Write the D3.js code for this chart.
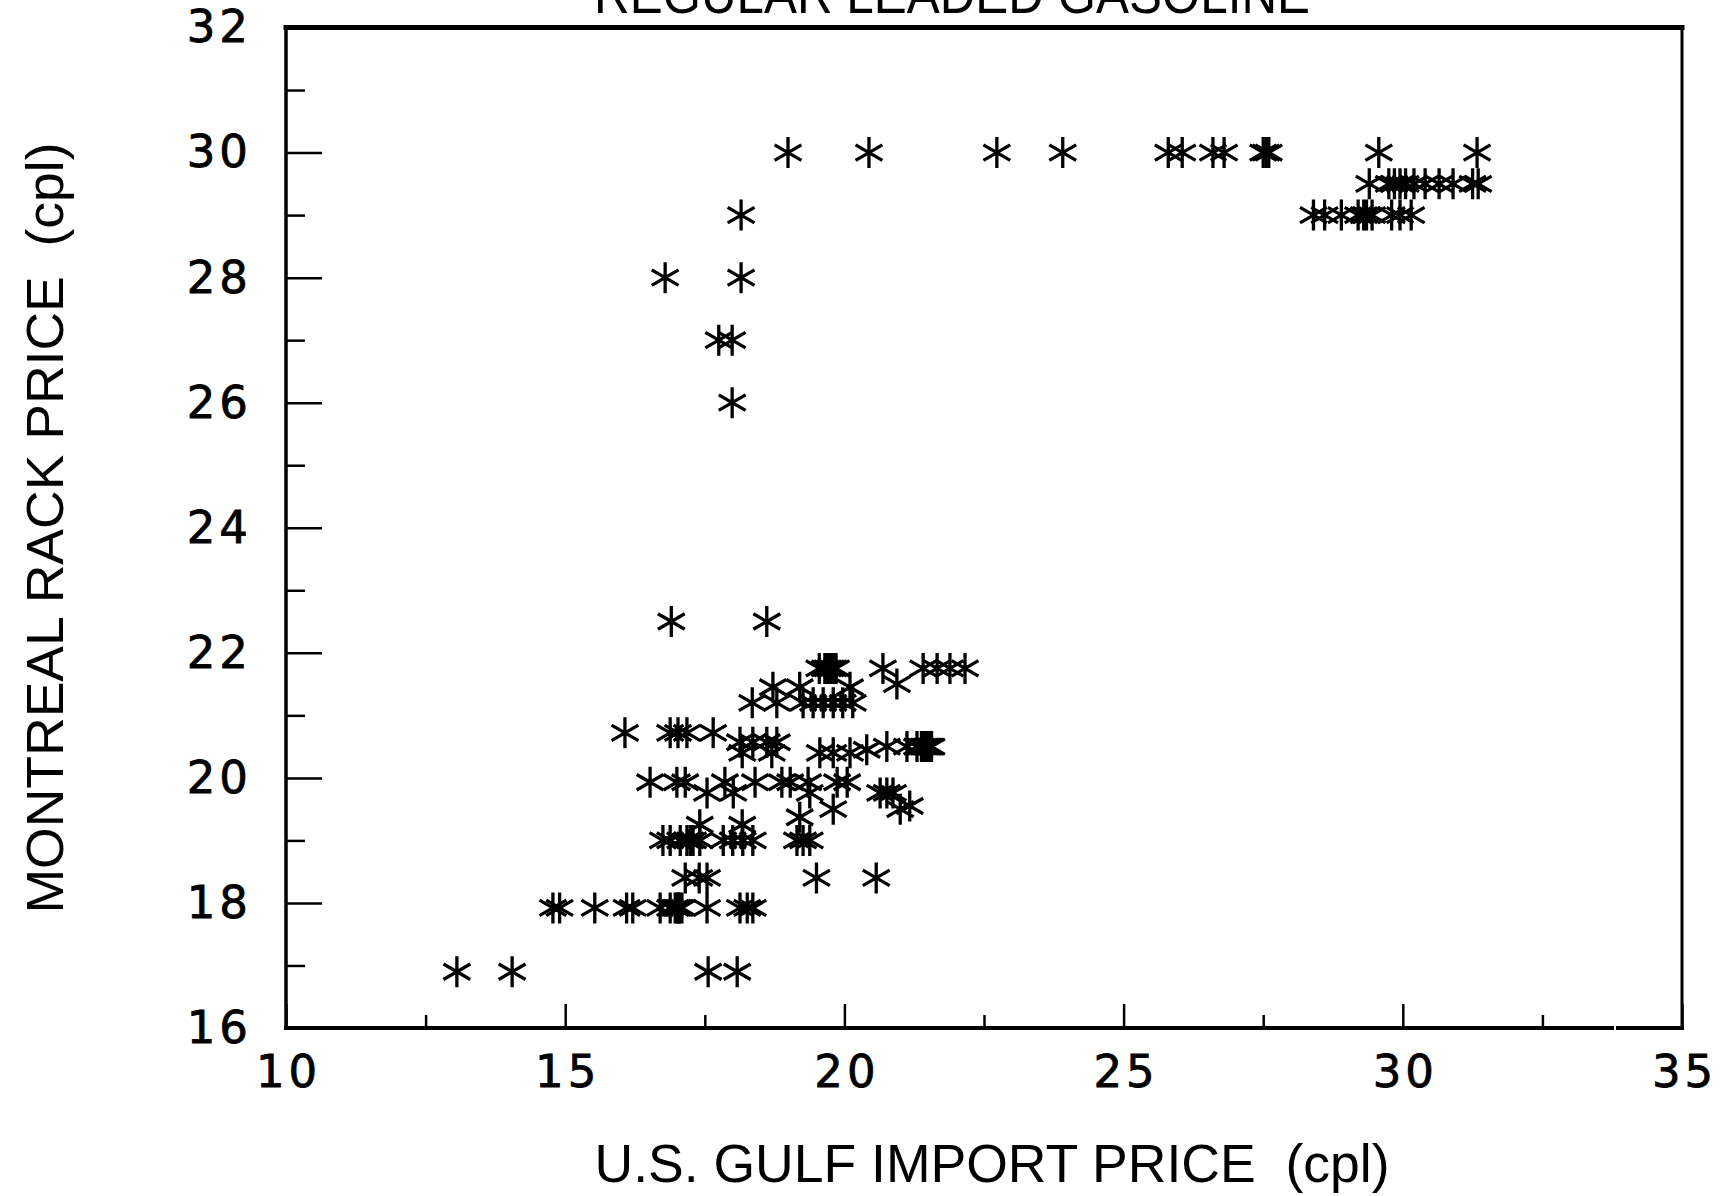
<!DOCTYPE html>
<html>
<head>
<meta charset="utf-8">
<script src="https://cdn.jsdelivr.net/npm/d3@7"></script>
<style>
  body { margin: 0; background: #fff; }
  svg { display: block; }
</style>
</head>
<body>
<svg id="chart" width="1726" height="1196"></svg>
<script>
// Montreal rack price vs U.S. Gulf import price, regular leaded gasoline (cpl)
const gulfPrice = [
  // 30 cpl
  18.99, 20.44, 22.73, 23.91, 25.8, 26.05, 26.6, 26.8, 27.5, 27.55, 27.6, 29.57, 31.33,
  // 29.5
  29.4, 29.75, 29.85, 29.95, 30.05, 30.2, 30.4, 30.65, 30.9, 31.25, 31.35,
  // 29
  28.4, 28.6, 28.9, 29.2, 29.3, 29.35, 29.45, 29.8, 29.95, 30.15, 18.15,
  // 28, 27, 26
  16.79, 18.15, 17.75, 17.99, 17.99,
  // 22.5
  16.9, 18.61,
  // 21.75
  19.55, 19.65, 19.7, 19.75, 19.8, 19.85, 20.69, 21.41, 21.66, 21.89, 22.16,
  // 21.45
  18.72, 19.2, 20.1, 20.94,
  // 21.2
  18.35, 18.79, 19.26, 19.44, 19.62, 19.8, 19.97, 20.15,
  // 20.72
  16.07, 16.88, 17.02, 17.18, 17.65,
  // 20.57
  18.13, 18.36, 18.61, 18.79,
  // 20.4
  18.17, 18.7, 19.56, 19.8, 20.1, 20.4,
  // 20.5
  20.76, 21.12, 21.3, 21.38, 21.42, 21.45, 21.48, 21.5, 21.53, 21.56,
  // 19.93
  16.52, 17.0, 17.15, 17.86, 18.4, 18.88, 19.03, 19.35, 19.87, 20.05,
  // 19.76
  17.54, 18.01, 19.38, 20.64, 20.76, 20.87,
  // 19.5, 19.37, 19.25
  19.8, 21.0, 21.17, 19.2, 17.41, 18.17,
  // 19
  16.75, 16.88, 17.06, 17.18, 17.24, 17.29, 17.41, 17.83, 18.0, 18.18, 18.36, 19.15, 19.26, 19.38,
  // 18.4
  17.15, 17.4, 17.54, 19.5, 20.57,
  // 17.9
  14.78, 14.9, 15.53, 16.1, 16.21, 16.7, 16.88, 16.97, 17.0, 17.03, 17.05, 17.09, 17.54, 18.13, 18.26, 18.36,
  // 16.9
  13.06, 14.05, 17.56, 18.08
];

const rackPrice = [
  30, 30, 30, 30, 30, 30, 30, 30, 30, 30, 30, 30, 30,
  29.5, 29.5, 29.5, 29.5, 29.5, 29.5, 29.5, 29.5, 29.5, 29.5, 29.5,
  29, 29, 29, 29, 29, 29, 29, 29, 29, 29, 29,
  28, 28, 27, 27, 26,
  22.5, 22.5,
  21.75, 21.75, 21.75, 21.75, 21.75, 21.75, 21.75, 21.75, 21.75, 21.75, 21.75,
  21.45, 21.45, 21.45, 21.5,
  21.2, 21.2, 21.2, 21.2, 21.2, 21.2, 21.2, 21.2,
  20.72, 20.72, 20.72, 20.72, 20.72,
  20.57, 20.57, 20.57, 20.57,
  20.4, 20.4, 20.4, 20.4, 20.4, 20.45,
  20.5, 20.5, 20.5, 20.5, 20.5, 20.5, 20.5, 20.5, 20.5, 20.5,
  19.93, 19.93, 19.93, 19.93, 19.93, 19.93, 19.93, 19.93, 19.93, 19.93,
  19.76, 19.76, 19.76, 19.76, 19.76, 19.76,
  19.5, 19.5, 19.55, 19.37, 19.25, 19.25,
  19, 19, 19, 19, 19, 19, 19, 19, 19, 19, 19, 19, 19, 19,
  18.4, 18.4, 18.4, 18.4, 18.4,
  17.92, 17.92, 17.92, 17.92, 17.92, 17.92, 17.92, 17.92, 17.92, 17.92, 17.92, 17.92, 17.92, 17.92, 17.92, 17.92,
  16.9, 16.9, 16.9, 16.9
];

const xMajorTicks = [10, 15, 20, 25, 30, 35];
const xMinorTicks = [12.5, 17.5, 22.5, 27.5, 32.5];
const yMajorTicks = [16, 18, 20, 22, 24, 26, 28, 30, 32];
const yMinorTicks = [17, 19, 21, 23, 25, 27, 29, 31];

const chartTitle = "REGULAR LEADED GASOLINE";
const xTitle = "U.S. GULF IMPORT PRICE  (cpl)";
const yTitle = "MONTREAL RACK PRICE  (cpl)";

const svg = d3.select("#chart");
const plotLeft = 286, plotRight = 1682, plotTop = 27.5, plotBottom = 1028;

const x = d3.scaleLinear().domain([10, 35]).range([plotLeft, plotRight]);
const y = d3.scaleLinear().domain([16, 32]).range([plotBottom, plotTop]);

const tickFont = "'DejaVu Sans', sans-serif";
const titleFont = "'Liberation Sans', sans-serif";

// x axis: inward ticks, labels below
const xAxis = svg.append("g").attr("transform", `translate(0,${plotBottom})`)
  .call(d3.axisBottom(x).tickValues(xMajorTicks).tickSize(-24).tickPadding(27).tickFormat(d3.format("d")));
svg.append("g").attr("transform", `translate(0,${plotBottom})`)
  .call(d3.axisBottom(x).tickValues(xMinorTicks).tickSize(-13).tickFormat(""));

// y axis
const yAxis = svg.append("g").attr("transform", `translate(${plotLeft},0)`)
  .call(d3.axisLeft(y).tickValues(yMajorTicks).tickSize(-36).tickPadding(34).tickFormat(d3.format("d")));
svg.append("g").attr("transform", `translate(${plotLeft},0)`)
  .call(d3.axisLeft(y).tickValues(yMinorTicks).tickSize(-19).tickFormat(""));

svg.selectAll(".domain").remove();
svg.selectAll(".tick line").attr("stroke", "#000").attr("stroke-width", 2.5);
svg.selectAll(".tick text")
  .attr("fill", "#000")
  .attr("stroke", "#000")
  .attr("stroke-width", 0.8)
  .style("font-family", tickFont)
  .style("font-size", "45px")
  .style("letter-spacing", "4px");
xAxis.selectAll(".tick text").attr("dx", "2px");

// frame (bottom line has a small break near the right end)
const frame = svg.append("g").attr("stroke", "#000").attr("stroke-linecap", "square");
frame.append("line").attr("x1", plotLeft).attr("x2", plotLeft).attr("y1", plotTop).attr("y2", plotBottom).attr("stroke-width", 3.5);
frame.append("line").attr("x1", plotRight).attr("x2", plotRight).attr("y1", plotTop).attr("y2", plotBottom).attr("stroke-width", 3);
frame.append("line").attr("x1", plotLeft).attr("x2", plotRight).attr("y1", plotTop).attr("y2", plotTop).attr("stroke-width", 5);
frame.append("line").attr("x1", plotLeft).attr("x2", 1612).attr("y1", plotBottom).attr("y2", plotBottom).attr("stroke-width", 4);
frame.append("line").attr("x1", 1618).attr("x2", plotRight).attr("y1", plotBottom).attr("y2", plotBottom).attr("stroke-width", 4);

// asterisk markers
const r = 15.5;
const ax = r * Math.cos(Math.PI / 6), ay = r * Math.sin(Math.PI / 6);
const star = `M0,${-r}L0,${r}M${-ax},${-ay}L${ax},${ay}M${-ax},${ay}L${ax},${-ay}`;

svg.append("g")
  .selectAll("path")
  .data(d3.range(gulfPrice.length))
  .join("path")
  .attr("d", star)
  .attr("transform", i => `translate(${x(gulfPrice[i])},${y(rackPrice[i])})`)
  .attr("fill", "none")
  .attr("stroke", "#000")
  .attr("stroke-width", 3.3);

// titles
svg.append("text")
  .attr("x", 952).attr("y", 13)
  .attr("text-anchor", "middle")
  .attr("textLength", 716).attr("lengthAdjust", "spacingAndGlyphs")
  .style("font-family", titleFont).style("font-size", "56px")
  .style("white-space", "pre")
  .text(chartTitle);

svg.append("text")
  .attr("x", 992).attr("y", 1182)
  .attr("text-anchor", "middle")
  .attr("textLength", 795).attr("lengthAdjust", "spacingAndGlyphs")
  .style("font-family", titleFont).style("font-size", "54px")
  .style("white-space", "pre")
  .text(xTitle);

svg.append("text")
  .attr("transform", "translate(63,528) rotate(-90)")
  .attr("text-anchor", "middle")
  .attr("textLength", 771).attr("lengthAdjust", "spacingAndGlyphs")
  .style("font-family", titleFont).style("font-size", "52px")
  .style("white-space", "pre")
  .text(yTitle);
</script>
</body>
</html>
